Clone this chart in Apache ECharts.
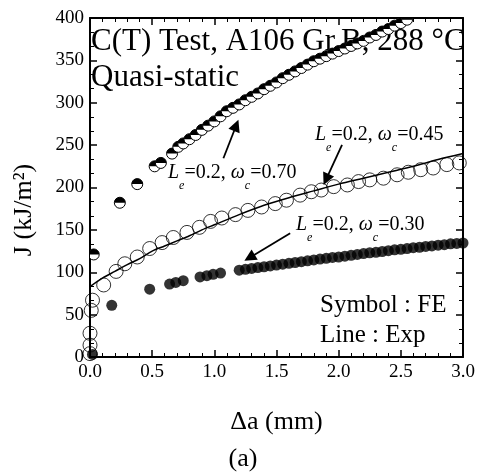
<!DOCTYPE html>
<html>
<head>
<meta charset="utf-8">
<script src="https://cdn.jsdelivr.net/npm/echarts@6/dist/echarts.min.js"></script>
<style>
  html, body { margin: 0; padding: 0; background: #fff; }
  #chart { width: 478px; height: 473px; }
</style>
</head>
<body>
<div id="chart"></div>
<script>
// Données (a)
const xTicks = [0.0, 0.5, 1.0, 1.5, 2.0, 2.5, 3.0];
const yTicks = [0, 50, 100, 150, 200, 250, 300, 350, 400];

// FE, Le=0.2, wc=0.70 (symboles demi-pleins)
const halfX = [0.03, 0.24, 0.38, 0.52, 0.57, 0.66, 0.71,
  0.75, 0.80, 0.85, 0.90, 0.95, 1.00, 1.05, 1.10, 1.15, 1.20,
  1.25, 1.30, 1.35, 1.40, 1.45, 1.50, 1.55, 1.60, 1.65, 1.70,
  1.75, 1.80, 1.85, 1.90, 1.95, 2.00, 2.05, 2.10, 2.15, 2.20,
  2.25, 2.30, 2.35, 2.40, 2.45, 2.50, 2.55];
const halfJ = [121, 182, 204, 225, 229, 240, 248,
  252, 257, 262, 268, 273, 278, 284, 290, 294, 298,
  303, 307, 311, 316, 320, 324, 329, 333, 337, 341,
  345, 349, 352, 355, 358, 361, 364, 367, 370, 373,
  377, 380, 384, 387, 391, 394, 398];

// FE, Le=0.2, wc=0.45 (cercles vides)
const openX = [0.00, 0.00, 0.00, 0.01, 0.02, 0.11, 0.21, 0.28, 0.38, 0.48, 0.58, 0.67,
  0.78, 0.88, 0.97, 1.06, 1.17, 1.27, 1.38, 1.49, 1.58, 1.69, 1.78, 1.86, 1.96,
  2.07, 2.16, 2.25, 2.36, 2.47, 2.56, 2.66, 2.76, 2.87, 2.97];
const openJ = [4, 14, 28, 55, 67, 85, 101, 110, 118, 128, 135, 141,
  147, 153, 160, 164, 168, 173, 177, 181, 185, 191, 195, 197, 201,
  203, 207, 209, 211, 215, 218, 221, 223, 227, 229];

// FE, Le=0.2, wc=0.30 (points pleins)
const fillX = [0.02, 0.175, 0.48, 0.64, 0.69, 0.75, 0.885, 0.94, 0.99, 1.05,
  1.20, 1.25, 1.30, 1.35, 1.40, 1.45, 1.50, 1.55, 1.60, 1.65,
  1.70, 1.75, 1.80, 1.85, 1.90, 1.95, 2.00, 2.05, 2.10, 2.15,
  2.20, 2.25, 2.30, 2.35, 2.40, 2.45, 2.50, 2.55, 2.60, 2.65,
  2.70, 2.75, 2.80, 2.85, 2.90, 2.95, 3.00];
const fillJ = [3, 61, 80, 86, 88, 90, 94.5, 96, 97.5, 99,
  102.5, 103.5, 104.5, 105.5, 106.5, 107.5, 108.5, 109.5, 110.5, 111.5,
  112.5, 113.5, 114.5, 115.5, 116.5, 117.5, 118, 119, 120, 121,
  122, 123, 123.5, 124.5, 125.5, 126.5, 127, 128, 129, 129.5,
  130.5, 131, 132, 132.5, 133.5, 134, 134.5];

// Courbe expérimentale
const expX = [0, 0.1, 0.2, 0.3, 0.4, 0.5, 0.6, 0.7, 0.8, 0.9, 1.0, 1.2, 1.4, 1.6, 1.8, 2.0, 2.2, 2.4, 2.6, 2.8, 3.0];
const expJ = [83, 93, 101, 109, 116, 125, 131, 137, 143, 150, 156, 168, 179, 188, 196, 204, 211, 218, 225, 233, 240];

// Flèches (début -> pointe), en coordonnées du graphique
const arrow70 = [[1.073, 234.5], [1.176, 273.2]];
const arrow45 = [[2.027, 250.2], [1.899, 209.5]];
const arrow30 = [[1.610, 145.9], [1.283, 117.1]];

const SERIF = '"Liberation Serif", "Times New Roman", serif';
const pairs = (xs, ys) => xs.map((x, i) => [x, ys[i]]);

const chart = echarts.init(document.getElementById('chart'), null, { renderer: 'canvas' });

function axisCommon(min, max, interval, minorSplit) {
  return {
    type: 'value',
    min: min,
    max: max,
    interval: interval,
    axisLine: { show: true, onZero: false, lineStyle: { color: '#000', width: 2 } },
    axisTick: { show: true, inside: true, length: 7, lineStyle: { color: '#000', width: 1.5 } },
    minorTick: { show: true, splitNumber: minorSplit, length: 4, lineStyle: { color: '#000', width: 1 } },
    splitLine: { show: false },
    minorSplitLine: { show: false }
  };
}

const labelRich = {
  n: { fontFamily: SERIF, fontSize: 20, lineHeight: 20, verticalAlign: 'middle', fill: '#000' },
  i: { fontFamily: SERIF, fontSize: 20, lineHeight: 20, fontStyle: 'italic', verticalAlign: 'middle', fill: '#000' },
  s: { fontFamily: SERIF, fontSize: 12, lineHeight: 12, fontStyle: 'italic', padding: [26, 0, 0, 0], verticalAlign: 'middle', fill: '#000' }
};

function leLabel(x, y, wc) {
  return {
    type: 'text', x: x, y: y, silent: true,
    style: {
      text: '{i|L}{s|e}{n|=0.2, }{i|ω}{s|c}{n|=' + wc + '}',
      rich: labelRich,
      fill: '#000',
      textAlign: 'left', textVerticalAlign: 'middle',
      align: 'left', verticalAlign: 'middle'
    }
  };
}

function plainText(x, y, text, size, align, rotation) {
  return {
    type: 'text', x: x, y: y, rotation: rotation || 0, silent: true,
    style: {
      text: text,
      font: size + 'px ' + SERIF,
      fill: '#000',
      textAlign: align || 'left', textVerticalAlign: 'middle',
      align: align || 'left', verticalAlign: 'middle'
    }
  };
}

const option = {
  animation: false,
  backgroundColor: '#fff',
  grid: { left: 90, right: 15, top: 18, bottom: 116, containLabel: false, outerBoundsMode: 'none' },
  xAxis: [
    Object.assign(axisCommon(xTicks[0], xTicks[xTicks.length - 1], 0.5, 5), {
      position: 'bottom',
      name: 'Δa (mm)',
      nameLocation: 'middle',
      nameGap: 52,
      nameTextStyle: { fontFamily: SERIF, fontSize: 26, color: '#000' },
      axisLabel: { color: '#000', fontFamily: SERIF, fontSize: 19, margin: 6, formatter: v => v.toFixed(1) }
    }),
    Object.assign(axisCommon(xTicks[0], xTicks[xTicks.length - 1], 0.5, 5), {
      position: 'top',
      axisLabel: { show: false }
    })
  ],
  yAxis: [
    Object.assign(axisCommon(yTicks[0], yTicks[yTicks.length - 1], 50, 3), {
      position: 'left',
      axisLabel: { color: '#000', fontFamily: SERIF, fontSize: 19, margin: 6 }
    }),
    Object.assign(axisCommon(yTicks[0], yTicks[yTicks.length - 1], 50, 3), {
      position: 'right',
      axisLabel: { show: false }
    })
  ],
  series: [
    {
      name: 'Exp',
      type: 'line',
      data: pairs(expX, expJ),
      smooth: 0.3,
      showSymbol: false,
      symbol: 'none',
      lineStyle: { color: '#000', width: 1.5 },
      silent: true,
      markLine: {
        silent: true,
        symbol: ['none', 'triangle'],
        symbolSize: 12,
        label: { show: false },
        lineStyle: { color: '#000', width: 1.8, type: 'solid' },
        itemStyle: { color: '#000' },
        data: [
          [{ coord: arrow70[0] }, { coord: arrow70[1] }],
          [{ coord: arrow45[0] }, { coord: arrow45[1] }],
          [{ coord: arrow30[0] }, { coord: arrow30[1] }]
        ]
      }
    },
    {
      name: 'wc045',
      type: 'scatter',
      data: pairs(openX, openJ),
      symbol: 'circle',
      symbolSize: 14,
      itemStyle: { color: 'rgba(255,255,255,0)', borderColor: '#000', borderWidth: 1 },
      silent: true
    },
    {
      name: 'wc030',
      type: 'scatter',
      data: pairs(fillX, fillJ),
      symbol: 'circle',
      symbolSize: 11,
      itemStyle: { color: '#000' },
      silent: true
    },
    {
      name: 'wc070',
      type: 'custom',
      data: pairs(halfX, halfJ),
      encode: { x: 0, y: 1 },
      clip: true,
      silent: true,
      renderItem: function (params, api) {
        const p = api.coord([api.value(0), api.value(1)]);
        const r = 5.5;
        return {
          type: 'group',
          children: [
            { type: 'circle', shape: { cx: p[0], cy: p[1], r: r }, style: { fill: '#fff', stroke: '#000', lineWidth: 1 } },
            { type: 'sector', shape: { cx: p[0], cy: p[1], r0: 0, r: r, startAngle: Math.PI, endAngle: 2 * Math.PI }, style: { fill: '#000' } }
          ]
        };
      }
    }
  ],
  graphic: [
    plainText(24, 210, 'J (kJ/m²)', 26, 'center', Math.PI / 2),
    plainText(91, 42, 'C(T) Test, A106 Gr.B, 288 °C', 31),
    plainText(91, 78, 'Quasi-static', 31),
    leLabel(168, 173, '0.70'),
    leLabel(315, 135, '0.45'),
    leLabel(296, 225, '0.30'),
    plainText(320, 305, 'Symbol : FE', 25),
    plainText(320, 335, 'Line : Exp', 25),
    plainText(243, 459, '(a)', 26, 'center')
  ]
};

chart.setOption(option);
window.addEventListener('resize', chart.resize);
</script>
</body>
</html>
